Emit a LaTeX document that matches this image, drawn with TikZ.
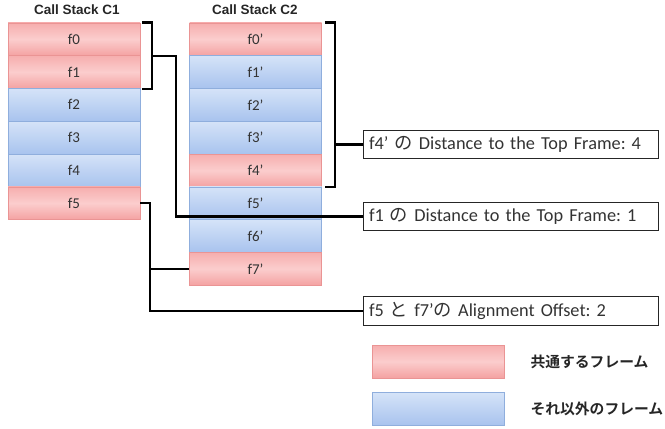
\documentclass[tikz,border=0pt]{standalone}
\usepackage{fontspec}
\setmainfont{Carlito}
\newfontfamily\jp{Noto Sans CJK JP}
\newfontfamily\jpb{Noto Sans CJK JP Bold}
\newfontfamily\ttl{Liberation Sans}
\frenchspacing
\begin{document}
\begin{tikzpicture}[x=1pt,y=-1pt,
  frameR/.style={draw=pinkbd, line width=0.6pt,
     top color=pinktop, bottom color=pinkbot, middle color=pinkmid,
     minimum width=132pt, minimum height=32.8pt, inner sep=0pt,
     font=\fontsize{15}{15}\selectfont, text=black!80},
  frameB/.style={draw=bluebd, line width=0.6pt,
     top color=bluetop, bottom color=bluebot,
     minimum width=132pt, minimum height=32.8pt, inner sep=0pt,
     font=\fontsize{15}{15}\selectfont, text=black!80},
  lbl/.style={draw=black!85, line width=1pt, minimum width=295pt, text width=283pt,
     align=left, inner sep=6pt, font=\fontsize{18.3}{18.3}\selectfont, text=black!80},
  conn/.style={line width=2.3pt, black},
  title/.style={font=\ttl\bfseries\fontsize{13.5}{13.5}\selectfont, text=black!85},
  legtxt/.style={font=\jpb\fontsize{14.8}{14.8}\selectfont, anchor=west, text=black!85}
]
\definecolor{pinktop}{HTML}{F6AEAE}
\definecolor{pinkmid}{HTML}{FBCDCD}
\definecolor{pinkbot}{HTML}{F4A2A2}
\definecolor{pinkbd}{HTML}{EA9494}
\definecolor{bluetop}{HTML}{D5E3F8}
\definecolor{bluebot}{HTML}{A8C3EE}
\definecolor{bluebd}{HTML}{8FAEDD}
\useasboundingbox (0,0) rectangle (665,429);

\node[title] (t1) at (77,10) {Call Stack C1};
\node[title] (t2) at (255,10) {Call Stack C2};

% stack C1
\node[frameR] (f0) at (74,39.2) {f0};
\node[frameR] (f1) at (74,72) {f1};
\node[frameB] (f2) at (74,104.8) {f2};
\node[frameB] (f3) at (74,137.6) {f3};
\node[frameB] (f4) at (74,170.4) {f4};
\node[frameR] (f5) at (74,203.2) {f5};

% stack C2
\node[frameR] (g0) at (255.5,39.2) {f0’};
\node[frameB] (g1) at (255.5,72) {f1’};
\node[frameB] (g2) at (255.5,104.8) {f2’};
\node[frameB] (g3) at (255.5,137.6) {f3’};
\node[frameR] (g4) at (255.5,170.4) {f4’};
\node[frameB] (g5) at (255.5,203.2) {f5’};
\node[frameB] (g6) at (255.5,236) {f6’};
\node[frameR] (g7) at (255.5,268.8) {f7’};

% labels
\node[lbl] (L4) at (510.5,144.5) {f4’ {\jp の} Distance to the Top Frame: 4};
\node[lbl] (L1) at (510.5,216.5) {f1 {\jp の} Distance to the Top Frame: 1};
\node[lbl] (L5) at (510.5,311) {f5 {\jp と} f7’{\jp の} Alignment Offset: 2};

% legend
\node[frameR, minimum width=132pt, minimum height=33pt] (kR) at (438,361.5) {};
\node[frameB, minimum width=132pt, minimum height=33pt] (kB) at (438,409) {};
\node[legtxt] (tR) at (527,361.5) {共通するフレーム};
\node[legtxt] (tB) at (527,409) {それ以外のフレーム};

% bracket C1 f0-f1
\coordinate (b1) at ([xshift=12pt]f0.north east);
\draw[conn] ([xshift=2pt]f0.north east) -- (b1) -- (b1 |- f1.south east) -- ([xshift=2pt]f1.south east);
\coordinate (k1) at ([xshift=36pt]f0.south east);
\draw[conn] (b1 |- f0.south east) -- (k1) -- (k1 |- L1.west) -- (L1.west);

% bracket C2 f0'-f4'
\coordinate (b2) at ([xshift=13pt]g0.north east);
\draw[conn] ([xshift=3pt]g0.north east) -- (b2) -- (b2 |- g4.south east) -- ([xshift=3pt]g4.south east);
\draw[conn] (b2 |- L4.west) -- (L4.west);

% f5 - f7'
\coordinate (b3) at ([xshift=10pt]f5.east);
\draw[conn] (f5.east) -- (b3) -- (b3 |- L5.west) -- (L5.west);
\draw[conn] (b3 |- g7.west) -- (g7.west);
\end{tikzpicture}
\end{document}
